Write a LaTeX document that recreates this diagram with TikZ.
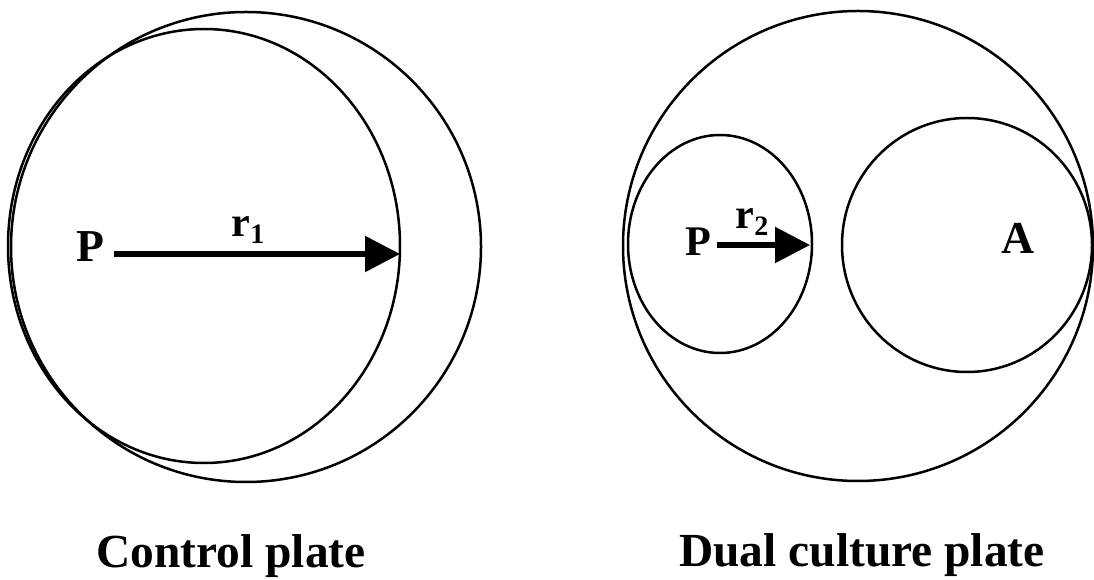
\documentclass[tikz,border=0pt]{standalone}
\usepackage{fontspec}
\setmainfont{Liberation Serif}
\usetikzlibrary{arrows.meta,positioning}
\newcommand\platesub[1]{\raisebox{-0.35ex}{\fontsize{16}{16}\selectfont #1}}

\begin{document}
\begin{tikzpicture}[
  x=0.2mm, y=-0.2mm,
  plate/.style={draw=black, line width=0.5mm},
  colony/.style={draw=black, line width=0.5mm},
  lbl/.style={inner sep=0pt, font=\fontsize{26}{28}\selectfont\bfseries},
  rlbl/.style={inner sep=0pt, font=\fontsize{24}{26}\selectfont\bfseries},
  title/.style={inner sep=0pt, anchor=base, font=\fontsize{27}{30}\selectfont\bfseries},
  rad/.style={line width=1.1mm, -{Triangle[length=7mm, width=7mm]}}
]
\useasboundingbox (0,0) rectangle (1094,580);

%% control plate
\draw[plate] (246,247) circle [radius=235];
\draw[colony] (204,246) ellipse [x radius=196, y radius=217];
\coordinate (tip1) at (400,254);
\node[lbl, outer sep=2mm] (p1) at (90,247) {P};
\node[rlbl] (r1) at (248,230) {r\platesub{1}};
\draw[rad] (p1.east |- tip1) -- (tip1);
\node[title] (ctrl) at (231,567) {Control plate};

%% dual culture plate
\draw[plate] (858,246) circle [radius=235];
\draw[colony] (720,244) ellipse [x radius=92, y radius=109];
\draw[colony] (967,245) ellipse [x radius=125, y radius=127];
\coordinate (tip2) at (810,245);
\node[lbl, font=\fontsize{24}{26}\selectfont\bfseries, outer sep=1.2mm] (p2) at (698,242) {P};
\node[rlbl] (r2) at (752,222) {r\platesub{2}};
\draw[rad] (p2.east |- tip2) -- (tip2);
\node[lbl] (a) at (1018,238) {A};
\node[title] (dual) at (862,566) {Dual culture plate};
\end{tikzpicture}
\end{document}
